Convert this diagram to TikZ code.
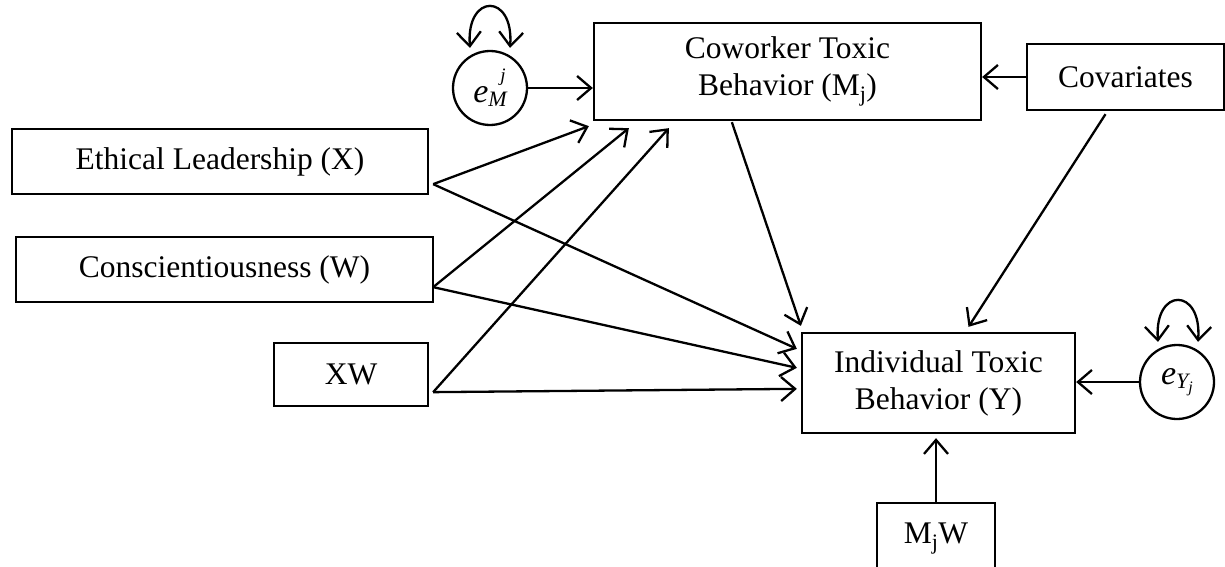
\documentclass[tikz,border=0pt]{standalone}
\usepackage{fontspec}
\setmainfont{Liberation Serif}
\usetikzlibrary{arrows.meta}
\begin{document}
\begin{tikzpicture}[x=1pt,y=-1pt,
  every node/.style={font=\fontsize{31.5}{37}\selectfont},
  box/.style={draw, line width=2.3pt, inner sep=0pt, align=center},
  err/.style={draw, circle, line width=2.3pt, minimum size=74pt, inner sep=0pt, font=\fontsize{34}{37}\selectfont\itshape},
  tipb/.tip={Straight Barb[length=14pt,width=24pt,line width=2.3pt]},
  arr/.style={-tipb, line width=2.3pt},
  selfloop/.style={tipb-tipb, line width=2.3pt}]
\useasboundingbox (0,0) rectangle (1225,567);
\clip (0,0) rectangle (1225,567);
% boxes
\node[box, minimum width=387pt, minimum height=97pt] (M) at (787.5,71.5) {Coworker Toxic\\Behavior (M\textsubscript{j})};
\node[box, minimum width=197pt, minimum height=66pt] (C) at (1125.5,77) {Covariates};
\node[box, minimum width=416pt, minimum height=65pt] (X) at (220,161.5) {Ethical Leadership (X)};
\node[box, minimum width=417pt, minimum height=65pt] (W) at (224.5,269.5) {Conscientiousness (W)};
\node[box, minimum width=154pt, minimum height=63pt] (XW) at (351,374.5) {XW};
\node[box, minimum width=273pt, minimum height=100pt] (Y) at (938.5,383) {Individual Toxic\\Behavior (Y)};
\node[box, minimum width=118pt, minimum height=72pt] (MW) at (936,539) {M\textsubscript{j}W};
% error terms
\node[err] (eM) at (490,88) {e\rlap{\hspace{0.35em}\raisebox{0.62em}{\fontsize{19}{19}\selectfont j}}\raisebox{-0.12em}{\fontsize{22}{22}\selectfont M}};
\node[err] (eY) at (1177,382) {e\raisebox{-0.12em}{\fontsize{22}{22}\selectfont Y\raisebox{-0.2em}{\fontsize{16}{16}\selectfont j}}};
% self loops
\draw[selfloop] ([xshift=-20pt,yshift=2pt]eM.north) .. controls +(-4,-55) and +(4,-55) .. ([xshift=20pt,yshift=2pt]eM.north);
\draw[selfloop] ([xshift=-19pt,yshift=2pt]eY.north) .. controls +(-4,-55) and +(4,-55) .. ([xshift=21pt,yshift=2pt]eY.north);
% arrows into M
\draw[arr] (eM.east) -- (M.west |- eM.east);
\draw[arr] (C.west) -- (M.east |- C.west);
\draw[arr] ([xshift=4pt,yshift=11pt]X.south east) -- ([xshift=-4pt,yshift=-5pt]M.south west);
\draw[arr] ([xshift=-1pt,yshift=16pt]W.south east) -- ([xshift=36pt,yshift=-7pt]M.south west);
\draw[arr] ([xshift=4pt,yshift=15pt]XW.south east) -- ([xshift=76pt,yshift=-7pt]M.south west);
% arrows into Y
\draw[arr] ([xshift=139pt,yshift=-1pt]M.south west) -- ([yshift=6pt]Y.north west);
\draw[arr] ([xshift=4pt,yshift=11pt]X.south east) -- ([xshift=-4pt,yshift=-17pt]Y.north west);
\draw[arr] ([xshift=-1pt,yshift=16pt]W.south east) -- ([xshift=-4pt,yshift=-36pt]Y.north west);
\draw[arr] ([xshift=4pt,yshift=15pt]XW.south east) -- ([xshift=-4pt,yshift=-57pt]Y.north west);
\draw[arr] ([xshift=-20pt,yshift=-3pt]C.south) -- ([xshift=30pt,yshift=5pt]Y.north);
\draw[arr] (eY.west) -- (Y.east |- eY.west);
\draw[arr] (MW.north) -- ([yshift=-4pt]MW.north |- Y.south);
\end{tikzpicture}
\end{document}
